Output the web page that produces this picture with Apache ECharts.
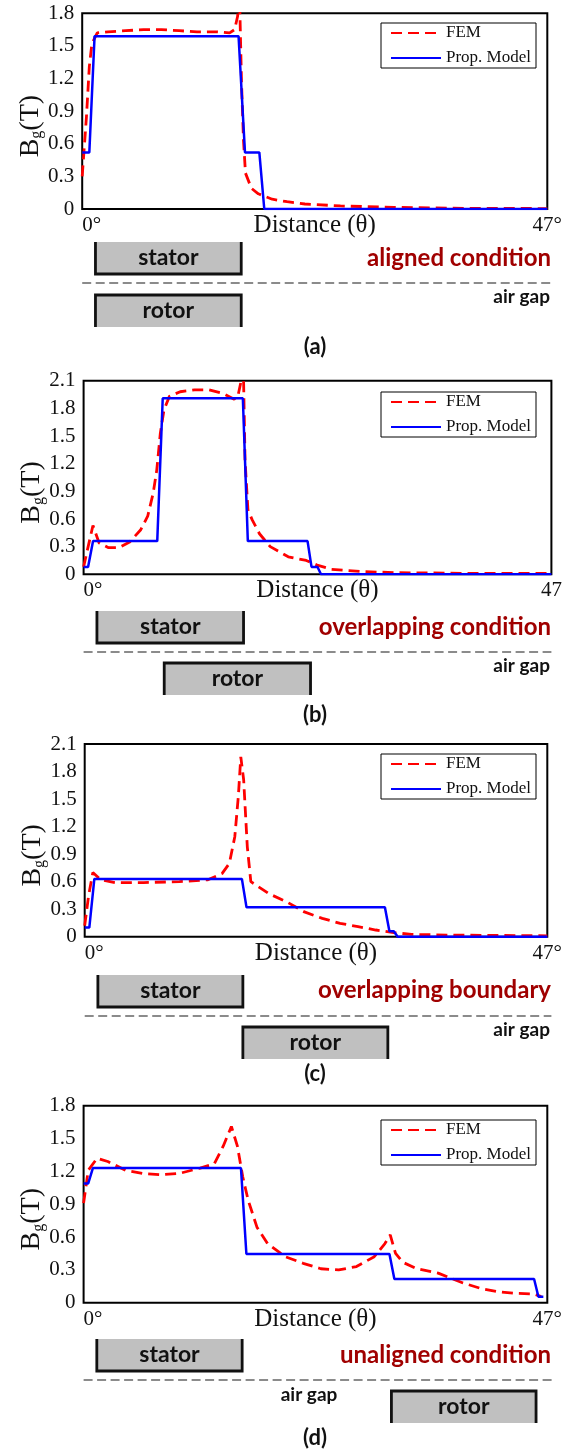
<!DOCTYPE html>
<html><head><meta charset="utf-8">
<script src="https://cdn.jsdelivr.net/npm/echarts@6/dist/echarts.min.js"></script>
<style>html,body{margin:0;padding:0;background:#fff}#c{width:565px;height:1456px}</style>
</head><body><div id="c"></div>
<script>
// ---------- DATA ----------
const seriesNames = ['FEM', 'Prop. Model'];
const xMin = 0, xMax = 47;
const yMaxes = [1.8, 2.1, 2.1, 1.8];
const yStep = 0.3;
const xStartLabel = '0°';
const xEndLabels = ['47°', '47', '47°', '47°'];
const xName = 'Distance (θ)';
const panelCaptions = ['(a)', '(b)', '(c)', '(d)'];
const conditions = ['aligned condition', 'overlapping condition', 'overlapping boundary', 'unaligned condition'];
const gapLabel = 'air gap';
const statorRanges = [[1.34, 16.07], [1.34, 16.07], [1.34, 16.07], [1.34, 16.07]];
const rotorRanges = [[1.34, 16.07], [8.1, 22.8], [16.07, 30.8], [31.2, 45.86]];

const femA = [[0,0.30],[0.43,0.85],[0.72,1.31],[0.98,1.52],[1.52,1.62],[2.6,1.63],[4.4,1.64],[6.2,1.65],[8.0,1.65],[9.8,1.64],[11.6,1.63],[13.5,1.63],[14.9,1.62],[15.4,1.65],[15.7,1.77],[15.9,1.95],[16.1,1.16],[16.3,0.63],[16.5,0.33],[17.1,0.19],[17.8,0.14],[19.2,0.09],[20.7,0.067],[22.5,0.046],[26.1,0.028],[31.5,0.015],[38.8,0.006],[47,0.004]];
const modelA = [[0,0.52],[0.72,0.52],[1.25,1.59],[15.8,1.59],[16.45,0.52],[17.9,0.52],[18.4,0],[47,0]];

const femB = [[0,0.08],[0.35,0.25],[0.94,0.53],[1.56,0.34],[2.46,0.29],[3.55,0.29],[4.63,0.35],[5.72,0.48],[6.44,0.63],[6.99,0.88],[7.35,1.13],[7.71,1.53],[8.07,1.78],[8.62,1.93],[9.7,1.98],[11.15,2.0],[12.6,2.0],[14.05,1.96],[15.13,1.9],[15.5,1.93],[15.93,2.15],[16.04,2.3],[16.22,1.24],[16.51,0.70],[16.94,0.59],[17.67,0.44],[18.75,0.30],[20.56,0.19],[22.37,0.15],[23.46,0.10],[24.9,0.054],[27.8,0.03],[31.4,0.018],[38.7,0.01],[47,0.01]];
const modelB = [[0,0.08],[0.45,0.08],[0.95,0.36],[7.4,0.36],[7.95,1.91],[16.0,1.91],[16.5,0.36],[22.5,0.36],[22.9,0.08],[23.5,0.08],[23.85,0],[47,0]];

const femC = [[0,0.12],[0.4,0.45],[0.83,0.70],[1.63,0.62],[3.09,0.59],[5.99,0.59],[9.62,0.60],[12.52,0.62],[13.97,0.69],[14.7,0.80],[15.25,1.09],[15.61,1.53],[15.86,1.96],[16.15,1.71],[16.52,0.98],[16.88,0.60],[18.69,0.47],[20.51,0.38],[22.32,0.27],[24.14,0.20],[25.95,0.145],[27.77,0.11],[29.58,0.073],[31.4,0.044],[33.2,0.025],[36.8,0.018],[47,0.01]];
const modelC = [[0,0.10],[0.47,0.10],[0.98,0.63],[15.97,0.63],[16.44,0.32],[30.5,0.32],[30.96,0.06],[31.4,0.06],[31.8,0],[47,0]];

const femD = [[0,0.91],[0.47,1.21],[1.37,1.32],[2.45,1.29],[4.25,1.21],[6.05,1.18],[7.85,1.17],[9.65,1.18],[11.81,1.23],[13.25,1.27],[14.15,1.43],[14.98,1.61],[15.59,1.43],[16.13,1.15],[16.67,0.94],[17.57,0.69],[18.65,0.54],[20.45,0.42],[22.25,0.36],[24.05,0.31],[25.86,0.30],[27.66,0.33],[29.46,0.42],[30.54,0.54],[31.08,0.62],[31.62,0.45],[32.34,0.37],[33.78,0.31],[35.94,0.27],[38.46,0.18],[40.26,0.13],[42.06,0.10],[43.86,0.085],[45.66,0.08],[46.38,0.055]];
const modelD = [[0,1.09],[0.47,1.09],[0.94,1.23],[15.95,1.23],[16.5,0.445],[31.0,0.445],[31.5,0.216],[45.66,0.216],[46.1,0.055],[46.6,0.055]];

const femAll = [femA, femB, femC, femD];
const modelAll = [modelA, modelB, modelC, modelD];

// ---------- LAYOUT ----------
const L = [
  {left:82.2, top:13.3, w:468, h:195.7, legTop:23, stator:242, rotor:295, dash:283, cond:258, gap:297, gapX:550, gapAlign:'right', cap:347},
  {left:83.6, top:380.7, w:467.8, h:193.6, legTop:392, stator:611, rotor:663, dash:652, cond:627, gap:666, gapX:550, gapAlign:'right', cap:715},
  {left:84.7, top:744, w:466.7, h:192.7, legTop:754, stator:975, rotor:1027, dash:1016, cond:990, gap:1030, gapX:550, gapAlign:'right', cap:1074},
  {left:83.6, top:1105.7, w:470.3, h:197, legTop:1120, stator:1339, rotor:1391, dash:1380, cond:1355, gap:1395, gapX:309, gapAlign:'center', cap:1438}
];
const SERIF = 'Liberation Serif';
const SANS = 'Lato';
const BOXH = 32;

const chart = echarts.init(document.getElementById('c'), null, {renderer:'canvas'});
const grid = [], xAxis = [], yAxis = [], legend = [], series = [], graphic = [];

L.forEach((p, i) => {
  grid.push({left:p.left, top:p.top, width:p.w, height:p.h, show:true, borderColor:'#000', borderWidth:2, backgroundColor:'transparent'});
  xAxis.push({
    type:'value', gridIndex:i, min:xMin, max:xMax, interval:xMax - xMin,
    axisLine:{show:false}, axisTick:{show:false}, splitLine:{show:false},
    axisLabel:{margin:6, fontFamily:SERIF, fontSize:21, color:'#111',
      alignMinLabel:'left', alignMaxLabel:'center',
      formatter: v => v === xMin ? xStartLabel : xEndLabels[i]},
    name:xName, nameLocation:'middle', nameGap:4, nameMoveOverlap:false,
    nameTextStyle:{fontFamily:SERIF, fontSize:25, color:'#111', verticalAlign:'top'}
  });
  yAxis.push({
    type:'value', gridIndex:i, min:0, max:yMaxes[i], interval:yStep,
    axisLine:{show:false}, axisTick:{show:false}, splitLine:{show:false},
    axisLabel:{margin:8, fontFamily:SERIF, fontSize:21, color:'#111',
      formatter: v => Math.abs(v) < 1e-9 ? '0' : v.toFixed(1)},
    name:'{b|B}{s|g}{b|(T)}', nameLocation:'middle', nameRotate:90, nameGap:37, nameMoveOverlap:false,
    nameTextStyle:{fontFamily:SERIF, color:'#111', padding:[0,30,0,0],
      rich:{b:{fontFamily:SERIF, fontSize:28, color:'#111', lineHeight:30},
            s:{fontFamily:SERIF, fontSize:16, color:'#111', verticalAlign:'bottom', lineHeight:16}}}
  });
  legend.push({
    left:381, top:p.legTop, orient:'vertical', data:seriesNames, selectedMode:false,
    itemWidth:50, itemHeight:12, itemGap:8, itemTextGap:8, padding:[1.5,5,1.5,9],
    borderColor:'#000', borderWidth:1, backgroundColor:'#fff',
    itemStyle:{opacity:0, borderWidth:0},
    textStyle:{fontFamily:SERIF, fontSize:17, color:'#111', lineHeight:17}
  });
  series.push({
    name:seriesNames[0], type:'line', xAxisIndex:i, yAxisIndex:i, data:femAll[i],
    symbol:'none', showSymbol:false, smooth:false, clip:true,
    lineStyle:{color:'#ff0000', width:2.8, type:[11,6]}, itemStyle:{color:'#ff0000'}, z:2
  });
  series.push({
    name:seriesNames[1], type:'line', xAxisIndex:i, yAxisIndex:i, data:modelAll[i],
    symbol:'none', showSymbol:false, clip:true,
    lineStyle:{color:'#0000ff', width:2.5}, itemStyle:{color:'#0000ff'}, z:3
  });
  series.push({
    type:'custom', xAxisIndex:i, yAxisIndex:i, clip:false, silent:true, z:5,
    encode:{x:[0,1], y:2},
    data:[[statorRanges[i][0], statorRanges[i][1], 0], [rotorRanges[i][0], rotorRanges[i][1], 1]],
    renderItem:(params, api) => {
      const x0 = api.coord([api.value(0), 0])[0];
      const x1 = api.coord([api.value(1), 0])[0];
      const kind = api.value(2);
      const top = kind === 0 ? p.stator : p.rotor;
      const pts = kind === 0
        ? [[x0, top], [x0, top + BOXH], [x1, top + BOXH], [x1, top]]
        : [[x0, top + BOXH], [x0, top], [x1, top], [x1, top + BOXH]];
      return {type:'group', children:[
        {type:'rect', shape:{x:x0, y:top, width:x1 - x0, height:BOXH}, style:{fill:'#c0c0c0'}},
        {type:'polyline', shape:{points:pts}, style:{stroke:'#111', lineWidth:2.8, fill:null}},
        {type:'text', x:(x0 + x1) / 2, y:top + BOXH / 2,
          style:{text: kind === 0 ? 'stator' : 'rotor', fontFamily:SANS, fontWeight:'bold', fontSize:23, fill:'#111', align:'center', verticalAlign:'middle'}}
      ]};
    }
  });
  graphic.push({type:'line', shape:{x1:p.left, y1:p.dash, x2:p.left + p.w, y2:p.dash},
    style:{stroke:'#666', lineWidth:1.5, lineDash:[9,4.5]}});
  graphic.push({type:'text', x:551, y:p.cond,
    style:{text:conditions[i], fontFamily:SANS, fontWeight:'bold', fontSize:24, fill:'#a00000', align:'right', verticalAlign:'middle'}});
  graphic.push({type:'text', x:p.gapX, y:p.gap,
    style:{text:gapLabel, fontFamily:SANS, fontWeight:'bold', fontSize:19, fill:'#111', align:p.gapAlign, verticalAlign:'middle'}});
  graphic.push({type:'text', x:315, y:p.cap,
    style:{text:panelCaptions[i], fontFamily:SANS, fontWeight:'bold', fontSize:22, fill:'#111', align:'center', verticalAlign:'middle'}});
});

chart.setOption({animation:false, backgroundColor:'#fff', grid, xAxis, yAxis, legend, series, graphic});
</script></body></html>
